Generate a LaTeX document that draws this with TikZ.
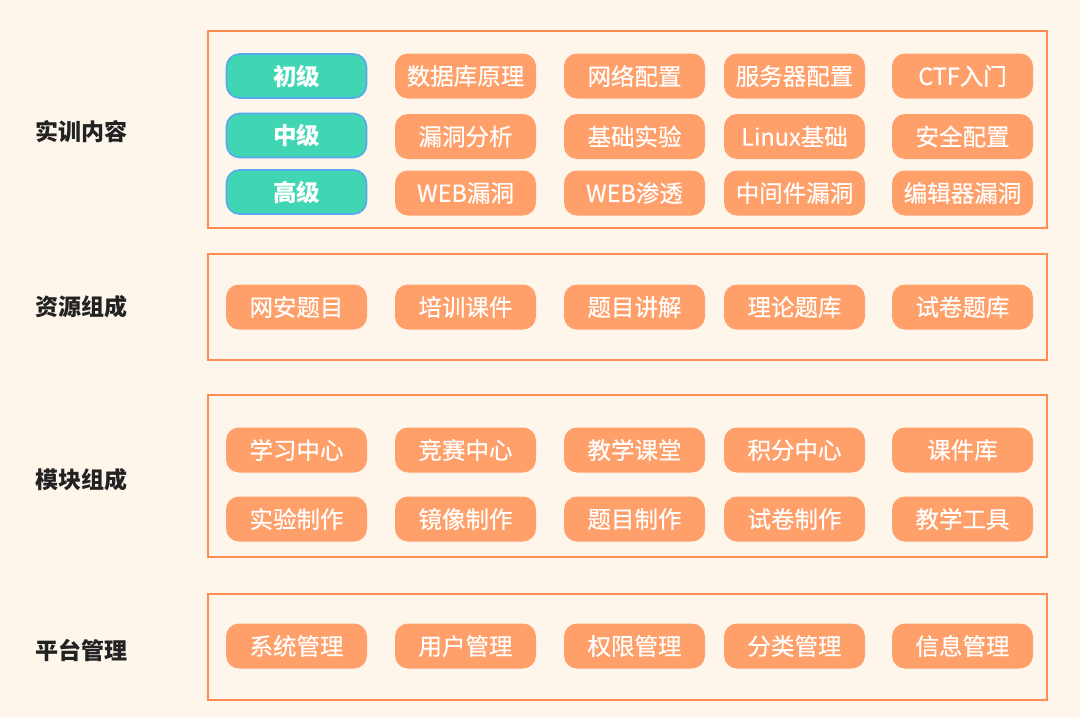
\documentclass[tikz,border=0pt]{standalone}
\usepackage{fontspec}
\setmainfont{Noto Sans CJK SC}
\newfontfamily\pillfont{Noto Sans CJK SC}[FakeBold=0.4]
\definecolor{bgc}{HTML}{FEF5EB}
\definecolor{panelc}{HTML}{FF8C50}
\definecolor{pillc}{HTML}{FFA06A}
\definecolor{greenc}{HTML}{40D6B4}
\definecolor{bluec}{HTML}{5AA8F0}
\definecolor{labelc}{HTML}{222222}
\begin{document}
\begin{tikzpicture}[x=1pt,y=-1pt,
  panel/.style={draw=panelc,line width=2pt,fill=none},
  pill/.style={fill=pillc,rounded corners=13pt,minimum width=141pt,minimum height=45pt,text=white,font=\pillfont\fontsize{23.5}{26}\selectfont,inner sep=0pt},
  lvl/.style={fill=greenc,draw=bluec,line width=1.6pt,rounded corners=13pt,minimum width=140pt,minimum height=44pt,text=white,font=\fontsize{23.5}{26}\selectfont\bfseries,inner sep=0pt},
  sec/.style={text=labelc,font=\fontsize{23}{26}\selectfont\bfseries,inner sep=0pt}]
\fill[bgc] (0,0) rectangle (1080,718);
\useasboundingbox (0,0) rectangle (1080,718);
% panels
\draw[panel] (208,31) rectangle (1047,228);
\draw[panel] (208,254) rectangle (1047,360);
\draw[panel] (208,395) rectangle (1047,557);
\draw[panel] (208,594) rectangle (1047,700);
% section labels
\node[sec] (s1) at (81,132) {实训内容};
\node[sec] (s2) at (81,307) {资源组成};
\node[sec] (s3) at (81,480) {模块组成};
\node[sec] (s4) at (81,650) {平台管理};
% panel 1
\node[lvl] (l1) at (296.5,76) {初级};
\node[lvl] (l2) at (296.5,135.5) {中级};
\node[lvl] (l3) at (296.5,192) {高级};
\node[pill] (a12) at (465.5,76) {数据库原理};
\node[pill] (a13) at (634.5,76) {网络配置};
\node[pill] (a14) at (794.5,76) {服务器配置};
\node[pill] (a15) at (962.5,76) {CTF入门};
\node[pill] (a22) at (465.5,136.5) {漏洞分析};
\node[pill] (a23) at (634.5,136.5) {基础实验};
\node[pill] (a24) at (794.5,136.5) {Linux基础};
\node[pill] (a25) at (962.5,136.5) {安全配置};
\node[pill] (a32) at (465.5,193) {WEB漏洞};
\node[pill] (a33) at (634.5,193) {WEB渗透};
\node[pill] (a34) at (794.5,193) {中间件漏洞};
\node[pill] (a35) at (962.5,193) {编辑器漏洞};
% panel 2
\node[pill] (b1) at (296.5,307) {网安题目};
\node[pill] (b2) at (465.5,307) {培训课件};
\node[pill] (b3) at (634.5,307) {题目讲解};
\node[pill] (b4) at (794.5,307) {理论题库};
\node[pill] (b5) at (962.5,307) {试卷题库};
% panel 3
\node[pill] (c11) at (296.5,450) {学习中心};
\node[pill] (c12) at (465.5,450) {竞赛中心};
\node[pill] (c13) at (634.5,450) {教学课堂};
\node[pill] (c14) at (794.5,450) {积分中心};
\node[pill] (c15) at (962.5,450) {课件库};
\node[pill] (c21) at (296.5,519) {实验制作};
\node[pill] (c22) at (465.5,519) {镜像制作};
\node[pill] (c23) at (634.5,519) {题目制作};
\node[pill] (c24) at (794.5,519) {试卷制作};
\node[pill] (c25) at (962.5,519) {教学工具};
% panel 4
\node[pill] (d1) at (296.5,646) {系统管理};
\node[pill] (d2) at (465.5,646) {用户管理};
\node[pill] (d3) at (634.5,646) {权限管理};
\node[pill] (d4) at (794.5,646) {分类管理};
\node[pill] (d5) at (962.5,646) {信息管理};
\end{tikzpicture}
\end{document}
